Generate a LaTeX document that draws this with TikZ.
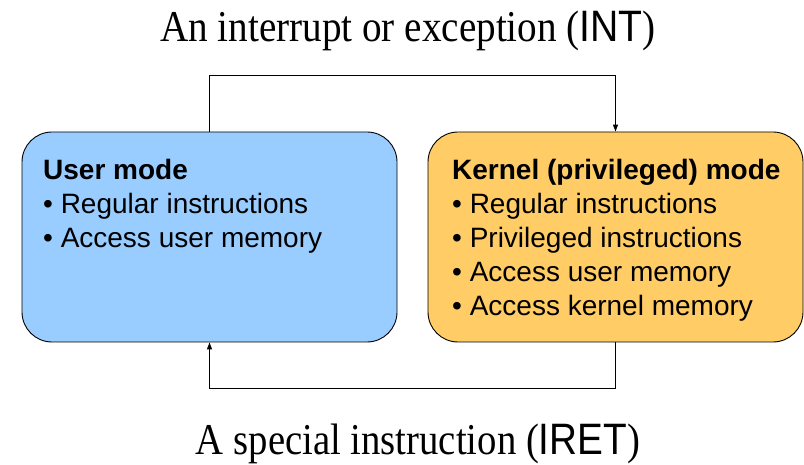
\documentclass[tikz,border=0pt]{standalone}
\usepackage{fontspec}
\setmainfont{Liberation Serif}
\newfontfamily\arialfont{Liberation Sans}
\usetikzlibrary{arrows.meta}
\definecolor{userblue}{HTML}{99CCFF}
\definecolor{kernelorange}{HTML}{FFCC66}
\begin{document}
\begin{tikzpicture}[x=1pt,y=1pt,
  modebox/.style={draw=black, line width=0.9pt, rounded corners=30pt, minimum width=375pt, minimum height=210pt, inner sep=0pt},
  modetext/.style={anchor=base west, inner sep=0pt, font=\arialfont\fontsize{28}{34}\selectfont},
  caption/.style={anchor=base, inner sep=0pt, font=\fontsize{44}{48}\selectfont},
  link/.style={line width=1.1pt, -{Triangle[length=7pt,width=5pt]}}]
\useasboundingbox (0,0) rectangle (804,464);
\node[modebox, fill=userblue] (user) at (209.5,227) {};
\node[modebox, fill=kernelorange] (kernel) at (615.5,227) {};
\node[modetext] (usertext) at (43,284) {\vtop{\hbox{\bfseries User mode}\hbox{• Regular instructions}\hbox{• Access user memory}}};
\node[modetext] (kerneltext) at (452,284) {\vtop{\hbox{\bfseries Kernel (privileged) mode}\hbox{• Regular instructions}\hbox{• Privileged instructions}\hbox{• Access user memory}\hbox{• Access kernel memory}}};
\draw[link] (user.north) -- ++(0,56) -| (kernel.north);
\draw[link] (kernel.south) -- ++(0,-46) -| (user.south);
\node[caption] (int) at (408,422) {\scalebox{0.89}[1]{An interrupt or exception ({\arialfont INT})}};
\node[caption] (iret) at (418,10) {\scalebox{0.88}[1]{A special instruction ({\arialfont IRET})}};
\end{tikzpicture}
\end{document}
